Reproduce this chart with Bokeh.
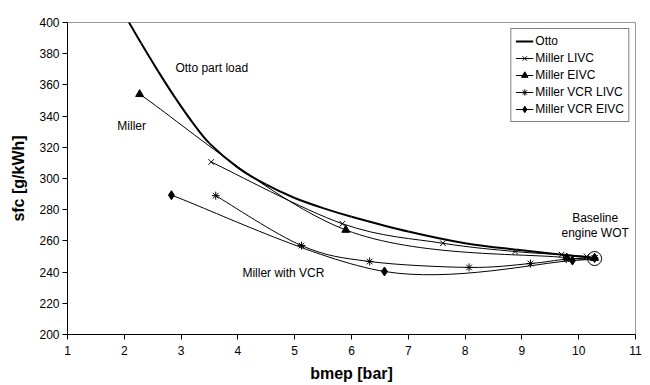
from bokeh.plotting import figure
from bokeh.models import Legend, LegendItem, Label, Range1d, FixedTicker
from bokeh.embed import file_html
from bokeh.resources import INLINE

# ---- data ----
otto_x = [2.02, 2.3, 2.6, 2.9, 3.2, 3.5, 4.0, 4.5, 5.0, 5.5, 6.0, 7.0, 8.0, 9.0, 10.28]
otto_y = [404, 386.5, 368.5, 351.5, 336, 322.5, 307, 296, 287.5, 281, 275.5, 266, 258.5, 254, 249]

livc_x = [3.53, 5.84, 7.61, 8.88, 9.70, 10.14, 10.28]
livc_y = [310.6, 271.0, 258.5, 253.2, 251.2, 250.0, 249.0]

eivc_x = [2.27, 5.90, 9.79, 10.28]
eivc_y = [354.0, 267.0, 249.2, 249.0]

vcr_livc_x = [3.61, 5.12, 6.32, 8.07, 9.15, 9.78, 10.28]
vcr_livc_y = [289.0, 257.0, 246.8, 243.0, 245.5, 248.3, 249.0]

vcr_eivc_x = [2.83, 6.58, 9.89, 10.28]
vcr_eivc_y = [289.3, 240.4, 247.4, 249.0]

base_x = [10.28]
base_y = [248.7]

x_ticks = list(range(1, 12))
y_ticks = list(range(200, 401, 20))

FONT = "Liberation Sans"


def smooth(xs, ys):
    """Bezier control points (Catmull-Rom style, like spreadsheet smoothed lines)."""
    n = len(xs)
    d = dict(x0=[], y0=[], x1=[], y1=[], cx0=[], cy0=[], cx1=[], cy1=[])
    for i in range(n - 1):
        pxm = xs[i - 1] if i > 0 else xs[i]
        pym = ys[i - 1] if i > 0 else ys[i]
        pxp = xs[i + 2] if i + 2 < n else xs[i + 1]
        pyp = ys[i + 2] if i + 2 < n else ys[i + 1]
        d["x0"].append(xs[i]); d["y0"].append(ys[i])
        d["x1"].append(xs[i + 1]); d["y1"].append(ys[i + 1])
        d["cx0"].append(xs[i] + (xs[i + 1] - pxm) / 6.0)
        d["cy0"].append(ys[i] + (ys[i + 1] - pym) / 6.0)
        d["cx1"].append(xs[i + 1] - (pxp - xs[i]) / 6.0)
        d["cy1"].append(ys[i + 1] - (pyp - ys[i]) / 6.0)
    return d


p = figure(width=650, height=385, output_backend="svg", toolbar_location=None,
           x_range=Range1d(1, 11), y_range=Range1d(200, 400),
           min_border_left=67, min_border_right=15, min_border_top=22, min_border_bottom=51)
p.background_fill_color = "white"
p.border_fill_color = "white"
p.outline_line_color = "#999999"
p.xgrid.visible = False
p.ygrid.visible = False

for ax in (p.xaxis[0], p.yaxis[0]):
    ax.axis_line_color = "black"
    ax.major_tick_line_color = "black"
    ax.minor_tick_line_color = None
    ax.major_tick_in = 0
    ax.major_tick_out = 5
    ax.major_label_text_font = FONT
    ax.major_label_text_font_size = "12px"
    ax.major_label_text_color = "black"
    ax.axis_label_text_font = FONT
    ax.axis_label_text_font_style = "bold"
    ax.axis_label_text_font_size = "16px"
    ax.axis_label_text_color = "black"

p.xaxis.ticker = FixedTicker(ticks=x_ticks)
p.yaxis.ticker = FixedTicker(ticks=y_ticks)
p.xaxis.axis_label = "bmep [bar]"
p.yaxis.axis_label = "sfc [g/kWh]"
p.xaxis.major_label_standoff = 6
p.yaxis.major_label_standoff = 3
p.xaxis.axis_label_standoff = 7
p.yaxis.axis_label_standoff = 9

items = []

r = p.bezier(line_color="black", line_width=2, **smooth(otto_x, otto_y))
items.append(LegendItem(label="Otto", renderers=[r]))

series = [
    ("Miller LIVC", livc_x, livc_y, "x", 8, None),
    ("Miller EIVC", eivc_x, eivc_y, "triangle", 8, "black"),
    ("Miller VCR LIVC", vcr_livc_x, vcr_livc_y, "asterisk", 8, None),
    ("Miller VCR EIVC", vcr_eivc_x, vcr_eivc_y, "diamond", 9, "black"),
]
for name, xs, ys, mk, sz, fill in series:
    rl = p.bezier(line_color="black", line_width=1, **smooth(xs, ys))
    rs = p.scatter(xs, ys, marker=mk, size=sz, line_color="black",
                   fill_color=fill if fill else None, line_width=1)
    items.append(LegendItem(label=name, renderers=[rl, rs]))

p.scatter(base_x, base_y, marker="circle", size=14, fill_color=None,
          line_color="black", line_width=1)

legend = Legend(items=items, location="top_right")
legend.margin = 6
legend.padding = 4
legend.spacing = 1
legend.label_height = 16
legend.glyph_height = 16
legend.glyph_width = 18
legend.label_standoff = 2
legend.label_text_font = FONT
legend.label_text_font_size = "12px"
legend.label_text_color = "black"
legend.border_line_color = "black"
legend.border_line_width = 1
legend.background_fill_color = "white"
legend.background_fill_alpha = 1
p.add_layout(legend)

for txt, x, y, align in [
    ("Otto part load", 2.90, 370.7, "left"),
    ("Miller", 1.877, 333.5, "left"),
    ("Miller with VCR", 4.08, 239.3, "left"),
    ("Baseline", 10.29, 274.5, "center"),
    ("engine WOT", 10.29, 265.0, "center"),
]:
    p.add_layout(Label(x=x, y=y, text=txt, text_align=align, text_baseline="middle",
                       text_font=FONT, text_font_size="12px", text_color="black"))

open("out.html", "w").write(file_html(p, INLINE))
